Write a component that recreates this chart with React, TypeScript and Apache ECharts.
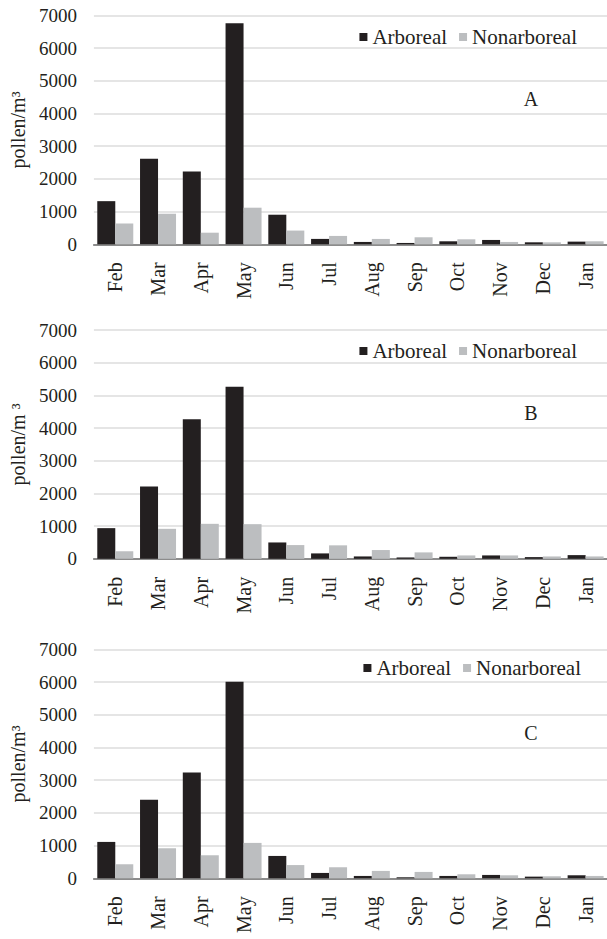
import React, { useEffect, useRef } from "react";
import * as echarts from "echarts";

// Monthly airborne pollen counts at three sampling sites (A, B, C)
const months = ["Feb", "Mar", "Apr", "May", "Jun", "Jul", "Aug", "Sep", "Oct", "Nov", "Dec", "Jan"];
const yTicks = [0, 1000, 2000, 3000, 4000, 5000, 6000, 7000];

const arborealA = [1320, 2615, 2230, 6765, 905, 165, 72, 41, 92, 133, 61, 82];
const nonArborealA = [640, 935, 355, 1120, 420, 256, 164, 215, 153, 72, 61, 92];

const arborealB = [938, 2212, 4271, 5260, 500, 165, 72, 41, 62, 103, 52, 113];
const nonArborealB = [234, 917, 1070, 1060, 420, 412, 268, 196, 103, 103, 72, 72];

const arborealC = [1113, 2400, 3238, 6016, 684, 164, 72, 31, 72, 103, 51, 92];
const nonArborealC = [429, 919, 705, 1083, 405, 338, 226, 195, 123, 92, 62, 72];

const panelLetters = ["A", "B", "C"];
const yTitles = ["pollen/m³", "pollen/m ³", "pollen/m³"];

const FONT = "Liberation Serif";
const INK = "#231f20";
const DARK = "#231f20";
const LIGHT = "#bcbec0";

export default function App() {
  const ref = useRef<HTMLDivElement>(null);

  useEffect(() => {
    if (!ref.current) return;
    const chart = echarts.init(ref.current, undefined, { renderer: "svg" });

    const panels = [
      { arb: arborealA, non: nonArborealA, top: 15.5, legendTop: 21.5, legendRight: 25, letterY: 99 },
      { arb: arborealB, non: nonArborealB, top: 330, legendTop: 335.5, legendRight: 25, letterY: 413 },
      { arb: arborealC, non: nonArborealC, top: 649.5, legendTop: 652.5, legendRight: 21, letterY: 733 },
    ];
    const gridHeight = 228.8;

    const option: echarts.EChartsOption = {
      animation: false,
      backgroundColor: "#ffffff",
      textStyle: { fontFamily: FONT, color: INK },
      grid: panels.map((p) => ({
        left: 85,
        width: 526,
        top: p.top,
        height: gridHeight,
        containLabel: false,
      })),
      legend: panels.map((p) => ({
        data: ["Arboreal", "Nonarboreal"],
        right: p.legendRight,
        top: p.legendTop,
        itemWidth: 8,
        itemHeight: 8,
        itemGap: 12,
        icon: "rect",
        selectedMode: false,
        textStyle: { fontFamily: FONT, fontSize: 21, color: INK },
      })),
      xAxis: panels.map((_, i) => ({
        type: "category",
        gridIndex: i,
        data: months,
        axisLine: { show: true, lineStyle: { color: "#8c8c8c", width: 2 } },
        axisTick: { show: false },
        axisLabel: {
          interval: 0,
          rotate: 90,
          margin: 18,
          fontFamily: FONT,
          fontSize: 20,
          color: INK,
        },
      })),
      yAxis: panels.map((_, i) => ({
        type: "value",
        gridIndex: i,
        min: 0,
        max: yTicks[yTicks.length - 1],
        interval: yTicks[1] - yTicks[0],
        name: yTitles[i],
        nameLocation: "middle",
        nameGap: 52,
        nameTextStyle: { fontFamily: FONT, fontSize: 20, color: INK },
        axisLine: { show: false },
        axisTick: { show: false },
        axisLabel: {
          margin: 17,
          fontFamily: FONT,
          fontSize: 19,
          color: INK,
          formatter: (v: number) => String(v),
        },
        splitLine: { show: true, lineStyle: { color: "#dcdcdc", width: 1.5 } },
      })),
      series: panels.flatMap((p, i) => [
        {
          name: "Arboreal",
          type: "bar",
          xAxisIndex: i,
          yAxisIndex: i,
          data: p.arb,
          barWidth: 18,
          barGap: "0%",
          itemStyle: { color: DARK },
        },
        {
          name: "Nonarboreal",
          type: "bar",
          xAxisIndex: i,
          yAxisIndex: i,
          data: p.non,
          barWidth: 18,
          barGap: "0%",
          itemStyle: { color: LIGHT },
        },
      ]),
      graphic: panels.map((p, i) => ({
        type: "text",
        x: 531,
        y: p.letterY,
        style: {
          text: panelLetters[i],
          fontFamily: FONT,
          fontSize: 20,
          fill: INK,
          align: "center",
          verticalAlign: "middle",
        },
      })),
    };

    chart.setOption(option);
    return () => chart.dispose();
  }, []);

  return (
    <div
      ref={ref}
      style={{ position: "absolute", left: 0, top: 0, width: 607, height: 939, background: "#fff" }}
    />
  );
}
